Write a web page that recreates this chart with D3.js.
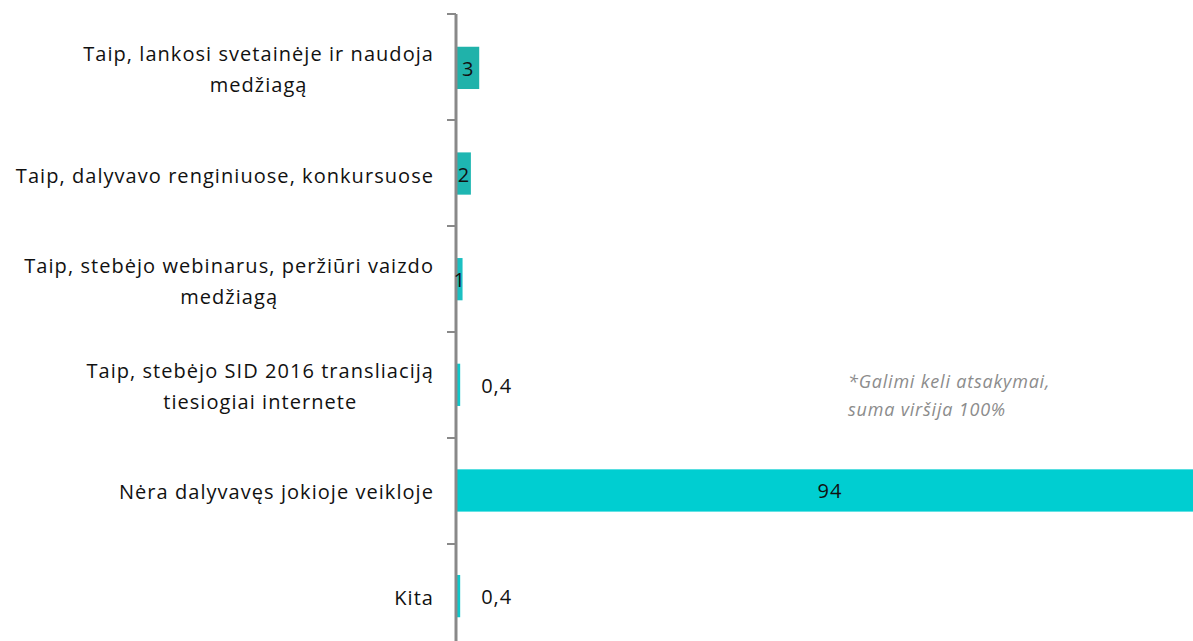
<!DOCTYPE html>
<html><head><meta charset="utf-8">
<script src="https://cdn.jsdelivr.net/npm/d3@7"></script>
<style>body{margin:0;background:#fff;}svg{display:block;}</style>
</head><body>
<svg id="c" width="1193" height="641"></svg>
<script>
const categories = [
  ["Taip, lankosi svetainėje ir naudoja", "medžiagą"],
  ["Taip, dalyvavo renginiuose, konkursuose"],
  ["Taip, stebėjo webinarus, peržiūri vaizdo", "medžiagą"],
  ["Taip, stebėjo SID 2016 transliaciją", "tiesiogiai internete"],
  ["Nėra dalyvavęs jokioje veikloje"],
  ["Kita"]
];
const values = [2.8, 1.75, 0.7, 0.4, 94, 0.4];
const valueLabels = ["3", "2", "1", "0,4", "94", "0,4"];
const barColors = ["#20B2AA", "#1EB6B2", "#1BC0C2", "#0FC8CB", "#00CED1", "#0FC8CB"];
const noteLines = ["*Galimi keli atsakymai,", "suma viršija 100%"];

const svg = d3.select("#c");
const font = "'Open Sans', 'Liberation Sans', sans-serif";
const axisX = 456;
const labelRight = 434;

const y = d3.scaleBand().domain(d3.range(categories.length))
  .range([14, 650]).paddingInner(0.6).paddingOuter(0.31);
const x = d3.scaleLinear().domain([0, 94]).range([axisX + 1, 1203]);

// bars
svg.selectAll("rect.bar").data(values).join("rect")
  .attr("class", "bar")
  .attr("x", x(0))
  .attr("y", (d, i) => y(i))
  .attr("width", d => x(d) - x(0))
  .attr("height", y.bandwidth())
  .attr("fill", (d, i) => barColors[i]);

// axis line & ticks (between categories)
const bounds = d3.range(categories.length + 1).map(i => 14 + i * 106);
svg.append("line").attr("x1", axisX).attr("x2", axisX)
  .attr("y1", 14).attr("y2", 650).attr("stroke", "#898989").attr("stroke-width", 3);
svg.selectAll("line.tick").data(bounds).join("line")
  .attr("class", "tick")
  .attr("x1", axisX - 9).attr("x2", axisX)
  .attr("y1", d => d).attr("y2", d => d)
  .attr("stroke", "#898989").attr("stroke-width", 2);

// category labels: lines centred on the widest line, block right-aligned
const lineH = 31;
categories.forEach((lines, i) => {
  const cy = y(i) + y.bandwidth() / 2;
  const t = svg.append("text")
    .attr("text-anchor", "middle")
    .attr("font-family", font)
    .attr("font-size", 20)
    .attr("letter-spacing", 1.05)
    .attr("fill", "#111");
  const spans = lines.map((ln, k) => {
    const dy = (k - (lines.length - 1) / 2) * lineH;
    return t.append("tspan").attr("y", cy + dy + 9).text(ln);
  });
  const maxW = d3.max(spans, s => s.node().getComputedTextLength());
  spans.forEach(s => s.attr("x", labelRight - maxW / 2));
});

// value labels
svg.selectAll("text.val").data(values).join("text")
  .attr("class", "val")
  .attr("font-family", font)
  .attr("font-size", 20)
  .attr("letter-spacing", 1)
  .attr("fill", "#111")
  .attr("text-anchor", d => d < 0.5 ? "start" : "middle")
  .attr("x", d => d < 0.5 ? x(d) + 21 : (x(0) + x(d)) / 2)
  .attr("y", (d, i) => y(i) + y.bandwidth() / 2 + 8)
  .text((d, i) => valueLabels[i]);

// note
const note = svg.append("text")
  .attr("font-family", font).attr("font-style", "italic")
  .attr("font-size", 18).attr("letter-spacing", 0.8).attr("fill", "#8c8c8c");
noteLines.forEach((ln, k) => {
  note.append("tspan").attr("x", 848).attr("y", 388 + k * 28).text(ln);
});
</script>
</body></html>
